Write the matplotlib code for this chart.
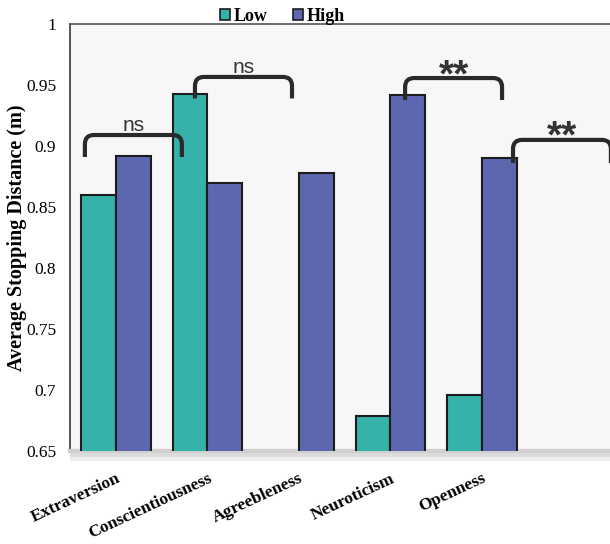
import numpy as np
import matplotlib
matplotlib.use("Agg")
import matplotlib.pyplot as plt
from matplotlib.path import Path
from matplotlib.patches import PathPatch

categories = ["Extraversion", "Conscientiousness", "Agreebleness", "Neuroticism", "Openness"]
low_vals = [0.860, 0.943, np.nan, 0.679, 0.696]
high_vals = [0.892, 0.870, 0.878, 0.942, 0.890]
yticks = [0.65, 0.7, 0.75, 0.8, 0.85, 0.9, 0.95, 1.0]
ytick_labels = ["0.65", "0.7", "0.75", "0.8", "0.85", "0.9", "0.95", "1"]
# significance brackets: (category index, left offset, right offset, top, bottom, label)
brackets = [
    (0, -0.34, 0.72, 0.909, 0.891, "ns"),
    (1, -0.137, 0.924, 0.9566, 0.939, "ns"),
    (3, 0.16, 1.22, 0.9557, 0.9377, "**"),
    (4, 0.34, 1.41, 0.905, 0.886, "**"),
]

LOW_C = "#35b3aa"
HIGH_C = "#5d67b0"
EDGE = "#1c1c1c"
serif = ["Liberation Serif", "DejaVu Serif"]
sans = ["Liberation Sans", "DejaVu Sans"]

fig = plt.figure(figsize=(6.10, 5.44), dpi=100)
ax = fig.add_axes([70/610, 1-451/544, (610-70)/610, (451-24)/544])
ax.set_facecolor("#f7f7f7")

x = np.arange(len(categories))
w = 0.38
ax.bar(x - w/2, low_vals, w, bottom=0, color=LOW_C, edgecolor=EDGE, linewidth=1.5, zorder=3)
ax.bar(x + w/2, high_vals, w, bottom=0, color=HIGH_C, edgecolor=EDGE, linewidth=1.5, zorder=3)

ax.set_ylim(0.65, 1.0)
ax.set_xlim(-0.503, 5.40)
ax.set_yticks(yticks)
ax.set_yticklabels(ytick_labels, fontfamily=serif, fontsize=12.5)
ax.set_xticks(x)
ax.set_xticklabels(categories, fontfamily=serif, fontsize=12.5, fontweight="bold",
                   rotation=25, ha="right", rotation_mode="anchor")
ax.tick_params(axis="both", length=0)
ax.tick_params(axis="y", pad=10)
ax.tick_params(axis="x", pad=14)
ax.set_ylabel("Average Stopping Distance (m)", fontfamily=serif, fontsize=14.5,
              fontweight="bold")
ax.yaxis.set_label_coords(-0.079, 0.5)

ax.spines["right"].set_visible(False)
ax.spines["left"].set_color("#3a3a3a")
ax.spines["left"].set_linewidth(1.2)
ax.spines["top"].set_color("#555555")
ax.spines["top"].set_linewidth(1.2)
ax.spines["bottom"].set_color("#d0d0d0")
ax.spines["bottom"].set_linewidth(3)

# bottom shadow
for off, col in [(0.0035, "#dcdcdc"), (0.0065, "#ececec")]:
    ax.plot([-0.503, 5.40], [0.65 - off, 0.65 - off], color=col, lw=3, clip_on=False, zorder=1,
            solid_capstyle="butt")

# brackets
px_x = 1/91.5
px_y = 0.35/427
for ci, lo, hi, top, bot, lab in brackets:
    x0, x1 = ci + lo, ci + hi
    rx, ry = 9*px_x, 9*px_y
    verts = [(x0, bot), (x0, top - ry), (x0, top), (x0 + rx, top),
             (x1 - rx, top), (x1, top), (x1, top - ry), (x1, bot)]
    codes = [Path.MOVETO, Path.LINETO, Path.CURVE3, Path.CURVE3,
             Path.LINETO, Path.CURVE3, Path.CURVE3, Path.LINETO]
    ax.add_patch(PathPatch(Path(verts, codes), fill=False, edgecolor="#2a2a2a", lw=3,
                           capstyle="butt", joinstyle="round", zorder=5, clip_on=False))
    xm = (x0 + x1) / 2
    if lab == "ns":
        ax.text(xm, top + 4*px_y, lab, ha="center", va="baseline", fontfamily=sans,
                fontsize=15, color="#333333", zorder=6)
    else:
        ax.text(xm, top - 16*px_y, lab, ha="center", va="bottom", fontfamily=sans,
                fontsize=28, fontweight="bold", color="#333333", zorder=6)

# legend at top
ax.bar([np.nan], [np.nan], color=LOW_C, edgecolor=EDGE, linewidth=1.2, label="Low")
ax.bar([np.nan], [np.nan], color=HIGH_C, edgecolor=EDGE, linewidth=1.2, label="High")
fig.legend(loc="upper center", bbox_to_anchor=(0.463, 1.015), ncol=2, frameon=False,
           prop={"family": serif, "size": 13, "weight": "bold"},
           handlelength=0.55, handleheight=0.55, handletextpad=0.2, columnspacing=1.4)

fig.savefig("out.png", dpi=100, facecolor="white")
